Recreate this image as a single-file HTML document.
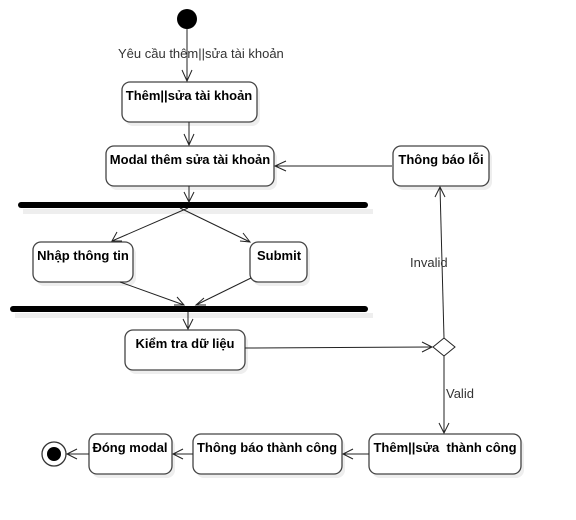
<!DOCTYPE html>
<html><head><meta charset="utf-8"><style>
html,body{margin:0;padding:0;background:#fff;}
svg{display:block;}
.t{font-family:"Liberation Sans","Noto Sans CJK SC",sans-serif;font-size:13px;font-weight:bold;fill:#000;text-anchor:middle;}
.l{font-family:"Liberation Sans","Noto Sans CJK SC",sans-serif;font-size:13px;fill:#333;}
.b{fill:#fff;stroke:#444;stroke-width:1.3;}
.s{fill:#eee;}
.e{stroke:#222;stroke-width:1;fill:none;}
</style></head><body>
<svg width="576" height="520" viewBox="0 0 576 520">
<g class="s">
<rect x="125" y="86" width="135" height="40" rx="8"/>
<rect x="109" y="150" width="168" height="40" rx="8"/>
<rect x="396" y="150" width="96" height="40" rx="8"/>
<rect x="36" y="246" width="100" height="40" rx="8"/>
<rect x="253" y="246" width="57" height="40" rx="8"/>
<rect x="128" y="334" width="120" height="40" rx="8"/>
<rect x="372" y="438" width="152" height="40" rx="8"/>
<rect x="196" y="438" width="149" height="40" rx="8"/>
<rect x="92" y="438" width="83" height="40" rx="8"/>
<rect x="23" y="209" width="350" height="5"/>
<rect x="15" y="313" width="358" height="5"/>
</g>
<circle cx="187" cy="19" r="10" fill="#000"/>
<circle cx="54" cy="454" r="12" fill="#fff" stroke="#333" stroke-width="1.3"/>
<circle cx="54" cy="454" r="7" fill="#000"/>
<rect x="18" y="202" width="350" height="6" rx="3" fill="#000"/>
<rect x="10" y="306" width="358" height="6" rx="3" fill="#000"/>
<rect class="b" x="122" y="82" width="135" height="40" rx="8"/>
<rect class="b" x="106" y="146" width="168" height="40" rx="8"/>
<rect class="b" x="393" y="146" width="96" height="40" rx="8"/>
<rect class="b" x="33" y="242" width="100" height="40" rx="8"/>
<rect class="b" x="250" y="242" width="57" height="40" rx="8"/>
<rect class="b" x="125" y="330" width="120" height="40" rx="8"/>
<rect class="b" x="369" y="434" width="152" height="40" rx="8"/>
<rect class="b" x="193" y="434" width="149" height="40" rx="8"/>
<rect class="b" x="89" y="434" width="83" height="40" rx="8"/>
<polygon points="444,338 455,347 444,356 433,347" fill="#fff" stroke="#222" stroke-width="1"/>
<g class="e">
<line x1="187" y1="29" x2="187" y2="81"/><polyline points="182,70 187,81 192,70"/>
<line x1="189" y1="122" x2="189" y2="145"/><polyline points="184,134 189,145 194,134"/>
<line x1="189" y1="186" x2="189" y2="202"/><polyline points="184,192 189,202 194,192"/>
<line x1="392" y1="166" x2="275" y2="166"/><polyline points="286,161 275,166 286,171"/>
<line x1="188" y1="208" x2="112" y2="241"/><polyline points="117,232 112,241 122,241"/>
<line x1="180" y1="208" x2="250" y2="242"/><polyline points="240,241 250,242 243,233"/>
<line x1="120" y1="282" x2="184" y2="305"/><polyline points="174,305 184,305 177,297"/>
<line x1="251" y1="278" x2="196" y2="305"/><polyline points="204,298 196,305 206,305"/>
<line x1="188" y1="312" x2="188" y2="329"/><polyline points="183,319 188,329 193,319"/>
<line x1="245" y1="348" x2="432" y2="347"/><polyline points="422,342 432,347 422,352"/>
<line x1="444" y1="338" x2="440" y2="187"/><polyline points="435,197 440,187 445,197"/>
<line x1="444" y1="356" x2="444" y2="433"/><polyline points="439,423 444,433 449,423"/>
<line x1="369" y1="454" x2="343" y2="454"/><polyline points="353,449 343,454 353,459"/>
<line x1="193" y1="454" x2="173" y2="454"/><polyline points="183,449 173,454 183,459"/>
<line x1="89" y1="454" x2="67" y2="454"/><polyline points="77,449 67,454 77,459"/>
</g>
<text class="l" x="118" y="58">Yêu cầu thêm||sửa tài khoản</text>
<text class="l" x="410" y="267">Invalid</text>
<text class="l" x="446" y="398">Valid</text>
<text class="t" x="189" y="100">Thêm||sửa tài khoản</text>
<text class="t" x="190" y="164">Modal thêm sửa tài khoản</text>
<text class="t" x="441" y="164">Thông báo lỗi</text>
<text class="t" x="83" y="260">Nhập thông tin</text>
<text class="t" x="279" y="260">Submit</text>
<text class="t" x="185" y="348">Kiểm tra dữ liệu</text>
<text class="t" x="445" y="452">Thêm||sửa&#160; thành công</text>
<text class="t" x="267" y="452">Thông báo thành công</text>
<text class="t" x="130" y="452">Đóng modal</text>
</svg>
</body></html>
